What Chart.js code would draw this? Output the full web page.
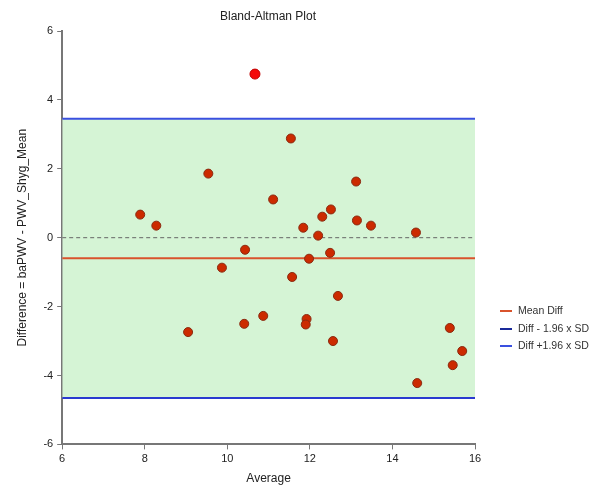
<!DOCTYPE html>
<html>
<head>
<meta charset="utf-8">
<script src="https://cdn.jsdelivr.net/npm/chart.js@4"></script>
<style>
  body { margin: 0; background: #fff; font-family: "Liberation Sans", Arial, sans-serif; }
  #wrap { position: relative; width: 594px; height: 486px; }
  #judul { position: absolute; left: 168px; width: 200px; top: 9px; text-align: center; font-size: 12px; color: #222; }
  #legend { position: absolute; left: 500px; top: 302px; font-size: 10.5px; color: #333; }
  #legend div { height: 17.5px; line-height: 17.5px; white-space: nowrap; }
  #legend span { display: inline-block; width: 12px; height: 2px; vertical-align: middle; margin-right: 6px; }
</style>
</head>
<body>
<div id="wrap">
  <canvas id="chart-bland" width="594" height="486"></canvas>
  <div id="judul">Bland-Altman Plot</div>
  <div id="legend">
    <div><span style="background:#d9532c"></span>Mean Diff</div>
    <div><span style="background:#1a2a9a"></span>Diff - 1.96 x SD</div>
    <div><span style="background:#3a50e0"></span>Diff +1.96 x SD</div>
  </div>
</div>
<script>
// data
const rata_rata = [7.89, 8.28, 9.54, 9.87, 9.05, 10.43, 10.41, 10.87, 11.11, 11.54, 11.57, 11.84, 11.98, 12.2, 12.3, 12.51, 12.49, 11.92, 11.9, 12.68, 12.56, 13.12, 13.14, 13.48, 14.57, 14.6, 15.39, 15.46, 15.69];
const selisih = [0.67, 0.35, 1.86, -0.87, -2.74, -0.35, -2.5, -2.27, 1.11, 2.88, -1.14, 0.29, -0.61, 0.06, 0.61, 0.82, -0.44, -2.36, -2.52, -1.69, -3.0, 1.63, 0.5, 0.35, 0.15, -4.22, -2.62, -3.7, -3.29];
const outlier_x = [10.67];
const outlier_y = [4.75];

const mean_diff = -0.6;
const batas_atas = 3.45;
const batas_bawah = -4.65;

const x_min = 6, x_max = 16;
const y_min = -6, y_max = 6;

function garis(nilai){
    return [{x: x_min, y: nilai}, {x: x_max, y: nilai}];
}

const titik = rata_rata.map((v, i) => ({x: v, y: selisih[i]}));
const titik_outlier = outlier_x.map((v, i) => ({x: v, y: outlier_y[i]}));

const ctx_bland = document.getElementById('chart-bland');
const font_sumbu = { family: "Liberation Sans", size: 11 };

const chart_bland = new Chart(ctx_bland, {
    type: 'scatter',
    data: {
        datasets: [
            {
                label: "Data",
                data: titik,
                backgroundColor: "#cc2a00",
                borderColor: "#8a2a10",
                borderWidth: 1,
                pointRadius: 4.5,
                order: 0
            },
            {
                label: "Outlier",
                data: titik_outlier,
                backgroundColor: "#f50a0a",
                borderColor: "#c00000",
                borderWidth: 1,
                pointRadius: 5,
                order: 0
            },
            {
                label: "Diff - 1.96 x SD",
                type: 'line',
                data: garis(batas_bawah),
                borderColor: "#2a3ad0",
                borderWidth: 2,
                pointRadius: 0,
                fill: false,
                order: 3
            },
            {
                label: "Diff +1.96 x SD",
                type: 'line',
                data: garis(batas_atas),
                borderColor: "#3a50e0",
                borderWidth: 2,
                pointRadius: 0,
                fill: '-1',
                backgroundColor: "#d5f4d5",
                order: 3
            },
            {
                label: "Mean Diff",
                type: 'line',
                data: garis(mean_diff),
                borderColor: "#d9532c",
                borderWidth: 2,
                pointRadius: 0,
                fill: false,
                order: 2
            },
            {
                label: "Nol",
                type: 'line',
                data: garis(0),
                borderColor: "#666666",
                borderWidth: 1,
                borderDash: [4, 3],
                pointRadius: 0,
                fill: false,
                order: 2
            }
        ]
    },
    options: {
        responsive: false,
        animation: false,
        layout: { padding: { left: 10, right: 119, top: 31, bottom: 0 } },
        plugins: {
            legend: { display: false },
            tooltip: { enabled: false },
            title: { display: false }
        },
        scales: {
            x: {
                type: 'linear',
                min: x_min,
                max: x_max,
                ticks: { stepSize: 2, color: "#222", font: font_sumbu, padding: 3 },
                grid: { display: true, drawOnChartArea: false, drawTicks: true, tickLength: 5, color: "#777" },
                border: { color: "#777", width: 2 },
                title: { display: true, text: "Average", color: "#222", font: { family: "Liberation Sans", size: 12 }, padding: { top: 3, bottom: 0 } }
            },
            y: {
                min: y_min,
                max: y_max,
                ticks: { stepSize: 2, color: "#222", font: font_sumbu, padding: 4 },
                grid: { display: true, drawOnChartArea: false, drawTicks: true, tickLength: 5, color: "#777" },
                border: { color: "#777", width: 2 },
                title: { display: true, text: "Difference = baPWV - PWV_Shyg_Mean", color: "#222", font: { family: "Liberation Sans", size: 12 }, padding: { top: 5, bottom: 10 } }
            }
        }
    }
});
</script>
</body>
</html>
